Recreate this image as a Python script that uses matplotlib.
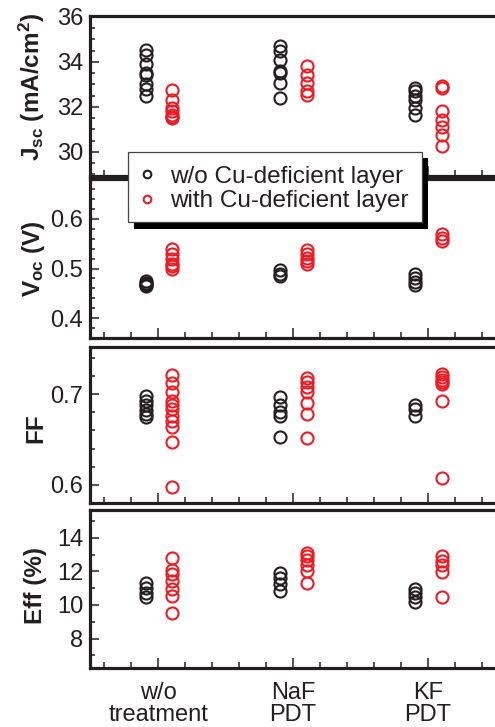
import matplotlib
matplotlib.use('Agg')
import matplotlib.pyplot as plt
from matplotlib.ticker import MultipleLocator, FixedLocator
from matplotlib.patches import Rectangle
from matplotlib.lines import Line2D

# ---------------- data ----------------
categories = ['w/o\ntreatment', 'NaF\nPDT', 'KF\nPDT']
series_labels = ['w/o Cu-deficient layer', 'with Cu-deficient layer']

jsc_without = [[34.55, 34.3, 33.9, 33.5, 33.4, 33.0, 32.8, 32.5],
               [34.7, 34.5, 34.1, 33.6, 33.5, 33.05, 32.4],
               [32.85, 32.7, 32.5, 32.3, 31.95, 31.65]]
jsc_with = [[32.75, 32.3, 31.95, 31.8, 31.65, 31.55, 31.5],
            [33.8, 33.4, 33.05, 32.7, 32.55],
            [32.95, 32.85, 31.8, 31.4, 31.1, 30.75, 30.25]]

voc_without = [[0.475, 0.47, 0.468, 0.466, 0.465],
               [0.497, 0.49, 0.485],
               [0.49, 0.48, 0.472, 0.466]]
voc_with = [[0.54, 0.53, 0.52, 0.51, 0.505, 0.5],
            [0.538, 0.53, 0.522, 0.515, 0.51],
            [0.57, 0.562, 0.555]]

ff_without = [[0.698, 0.693, 0.688, 0.683, 0.678, 0.675],
              [0.697, 0.688, 0.68, 0.676, 0.653],
              [0.688, 0.684, 0.676]]
ff_with = [[0.721, 0.712, 0.702, 0.692, 0.688, 0.684, 0.676, 0.670, 0.664, 0.647, 0.597],
           [0.718, 0.713, 0.708, 0.702, 0.69, 0.678, 0.652],
           [0.722, 0.719, 0.716, 0.713, 0.711, 0.692, 0.607]]

eff_without = [[11.3, 11.0, 10.7, 10.5],
               [11.9, 11.6, 11.25, 10.85],
               [10.95, 10.7, 10.45, 10.2]]
eff_with = [[12.8, 12.1, 11.85, 11.4, 10.95, 10.55, 9.5],
            [13.1, 12.9, 12.7, 12.4, 12.0, 11.3],
            [12.9, 12.6, 12.4, 11.95, 10.45]]

# ---------------- style ----------------
plt.rcParams['font.family'] = ['Liberation Sans', 'DejaVu Sans']
plt.rcParams['mathtext.fontset'] = 'custom'
plt.rcParams['mathtext.rm'] = 'Liberation Sans'
plt.rcParams['mathtext.it'] = 'Liberation Sans:italic'
plt.rcParams['mathtext.bf'] = 'Liberation Sans:bold'

DARK = '#231f20'
RED = '#ed1c24'
FS = 17

W, H = 495, 727
fig = plt.figure(figsize=(W / 100, H / 100), dpi=100)

def px_axes(left, top, right, bottom):
    return [left / W, 1 - bottom / H, (right - left) / W, (bottom - top) / H]

panels = [
    dict(wo=jsc_without, w=jsc_with,
         label=r'J$_{\mathbf{sc}}$ (mA/cm$^{\mathbf{2}}$)',
         ylim=(28.93, 36.04), major=2, minor=0.5, box=(16, 176), laby=0.555),
    dict(wo=voc_without, w=voc_with,
         label=r'V$_{\mathbf{oc}}$ (V)',
         ylim=(0.3604, 0.680), major=0.1, minor=0.02, box=(179, 338), laby=0.5),
    dict(wo=ff_without, w=ff_with, label='FF',
         ylim=(0.5798, 0.7522), major=0.1, minor=0.02, box=(347, 503), laby=0.48),
    dict(wo=eff_without, w=eff_with, label='Eff (%)',
         ylim=(6.25, 15.65), major=2, minor=1, box=(510, 668), laby=0.52),
]

x_left_px, x_right_px = 90, 497.7
xlim = (0.4925, 3.52)
off_wo, off_w = -0.095, 0.105
MS, MEW = 8.7, 1.5

axes = []
for k, p in enumerate(panels):
    top, bottom = p['box']
    ax = fig.add_axes(px_axes(x_left_px, top, x_right_px, bottom))
    axes.append(ax)
    for i in range(len(categories)):
        xc = i + 1
        ax.plot([xc + off_wo] * len(p['wo'][i]), p['wo'][i], ls='none', marker='o',
                ms=MS, mew=MEW, mfc='none', mec=DARK, clip_on=False)
        ax.plot([xc + off_w] * len(p['w'][i]), p['w'][i], ls='none', marker='o',
                ms=MS, mew=MEW, mfc='none', mec=RED, clip_on=False)
    ax.set_xlim(*xlim)
    ax.set_ylim(*p['ylim'])
    ax.xaxis.set_major_locator(FixedLocator([1, 2, 3]))
    ax.xaxis.set_minor_locator(MultipleLocator(0.2))
    ax.yaxis.set_major_locator(MultipleLocator(p['major']))
    ax.yaxis.set_minor_locator(MultipleLocator(p['minor']))
    for s in ax.spines.values():
        s.set_linewidth(2.3)
        s.set_color(DARK)
    ax.tick_params(axis='both', which='both', direction='in', color=DARK,
                   labelcolor=DARK, labelsize=FS, top=False, right=False)
    ax.tick_params(axis='x', which='major', length=7, width=1.1, pad=10)
    ax.tick_params(axis='x', which='minor', length=4, width=1.1)
    ax.tick_params(axis='y', which='major', length=6.5, width=1.1, pad=5)
    ax.tick_params(axis='y', which='minor', length=3.5, width=1.1)
    if k < len(panels) - 1:
        ax.set_xticklabels([])
    else:
        ax.set_xticklabels(categories, linespacing=1.0)
    ax.set_ylabel(p['label'], fontsize=17.5, fontweight='bold', color=DARK)
    ax.yaxis.set_label_coords(-0.105, p['laby'])

# ---------------- legend (box with solid shadow) ----------------
def fig_rect(x0, y0, x1, y1, **kw):
    r = Rectangle((x0 / W, 1 - y1 / H), (x1 - x0) / W, (y1 - y0) / H,
                  transform=fig.transFigure, figure=fig, **kw)
    fig.patches.append(r)

fig_rect(134, 158, 428, 228.5, facecolor='black', edgecolor='none', zorder=3)
fig_rect(128, 151.7, 421.7, 222.3, facecolor='white', edgecolor='#444444',
         linewidth=0.9, zorder=4)

handles = [Line2D([], [], ls='none', marker='o', ms=5.5, mew=1.5, mfc='none', mec=DARK),
           Line2D([], [], ls='none', marker='o', ms=5.5, mew=1.5, mfc='none', mec=RED)]
leg = fig.legend(handles, series_labels, loc='center left',
                 bbox_to_anchor=(137 / W, 1 - 189.2 / H), frameon=False,
                 fontsize=17.5, handlelength=0.85, handletextpad=0.5,
                 labelspacing=0.1, borderpad=0, borderaxespad=0)
for t in leg.get_texts():
    t.set_color(DARK)
leg.set_zorder(5)

fig.savefig('out.png', dpi=100)
